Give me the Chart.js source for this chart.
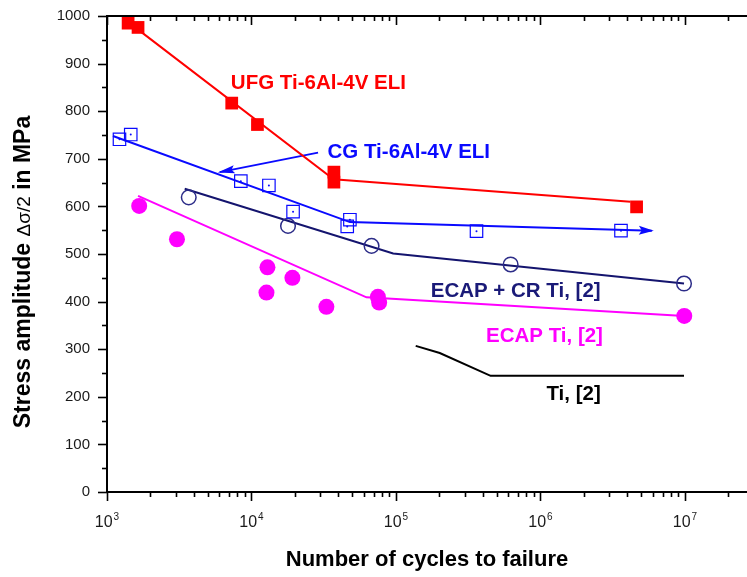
<!DOCTYPE html>
<html>
<head>
<meta charset="utf-8">
<script src="https://cdn.jsdelivr.net/npm/chart.js@4.4.1/dist/chart.umd.min.js"></script>
<style>
  html, body { margin: 0; padding: 0; background: #fff; }
  canvas { display: block; }
</style>
</head>
<body>
<canvas id="fatigueChart" width="747" height="577"></canvas>
<script>
// S-N data: cycles to failure vs stress amplitude (MPa)
const ufgCycles = [1400, 1640, 7300, 11000, 37200, 37200, 4630000];
const ufgStress = [985, 976, 817, 772, 672, 651, 599];
const ufgLineCycles = [1600, 37000, 4200000];
const ufgLineStress = [974, 657, 610];

const cgCycles = [1220, 1460, 8440, 13200, 19400, 48000, 46000, 361000, 3610000];
const cgStress = [741, 751, 653, 644, 589, 572, 558, 548, 549];
const cgLineCycles = [1100, 48000, 5900000];
const cgLineStress = [748, 567, 549];
const cgPointerCycles = [28900, 6030];
const cgPointerStress = [713, 672];

const ecapCrCycles = [3680, 17900, 67800, 622000, 9860000];
const ecapCrStress = [619, 559, 517, 478, 438];
const ecapCrLineCycles = [3450, 95700, 9860000];
const ecapCrLineStress = [637, 501, 438];

const ecapCycles = [1670, 3050, 12900, 12700, 19200, 33000, 75000, 76500, 9900000];
const ecapStress = [601, 531, 472, 419, 450, 389, 410, 398, 370];
const ecapLineCycles = [1640, 62500, 9900000];
const ecapLineStress = [622, 409, 370];

const tiLineCycles = [137000, 201000, 452000, 9860000];
const tiLineStress = [307, 292, 244, 244];

const yTicks = [0, 100, 200, 300, 400, 500, 600, 700, 800, 900, 1000];
const xDecades = [1e3, 1e4, 1e5, 1e6, 1e7];
const xExponents = ['3', '4', '5', '6', '7'];

const FONT = '"Liberation Sans", Arial, Helvetica, sans-serif';
const RED = '#ff0000';
const BLUE = '#0a0aff';
const NAVY = '#14146e';
const MAGENTA = '#ff00ff';

// text placed inside the plot (x, y in data units, left edge / baseline)
const notes = [
    { text: 'UFG Ti-6Al-4V ELI', x: 7200, y: 846, color: RED },
    { text: 'CG Ti-6Al-4V ELI', x: 33600, y: 701, color: BLUE },
    { text: 'ECAP + CR Ti, [2]', x: 174000, y: 409, color: '#1a1a78' },
    { text: 'ECAP Ti, [2]', x: 420000, y: 316, color: MAGENTA },
    { text: 'Ti, [2]', x: 1100000, y: 193, color: '#000' }
];

function toPoints(xs, ys) {
    return xs.map((x, i) => ({ x: x, y: ys[i] }));
}

function arrowHead(ctx, meta, len, half, color) {
    const pts = meta.data;
    const a = pts[pts.length - 2], b = pts[pts.length - 1];
    const ang = Math.atan2(b.y - a.y, b.x - a.x);
    ctx.save();
    ctx.translate(b.x, b.y);
    ctx.rotate(ang);
    ctx.fillStyle = color;
    ctx.beginPath();
    ctx.moveTo(2, 0);
    ctx.lineTo(-len, -half);
    ctx.lineTo(-len + 3, 0);
    ctx.lineTo(-len, half);
    ctx.closePath();
    ctx.fill();
    ctx.restore();
}

const decorPlugin = {
    id: 'decor',
    afterDatasetsDraw(chart) {
        const ctx = chart.ctx;
        arrowHead(ctx, chart.getDatasetMeta(6), 13, 4.5, BLUE);
        arrowHead(ctx, chart.getDatasetMeta(7), 15, 4, BLUE);

        ctx.save();
        ctx.font = 'bold 20.5px ' + FONT;
        ctx.textAlign = 'left';
        ctx.textBaseline = 'alphabetic';
        notes.forEach(n => {
            ctx.fillStyle = n.color;
            ctx.fillText(n.text, chart.scales.x.getPixelForValue(n.x), chart.scales.y.getPixelForValue(n.y));
        });
        ctx.restore();
    },
    afterDraw(chart) {
        const ctx = chart.ctx;
        const xs = chart.scales.x, ys = chart.scales.y;
        const area = chart.chartArea;
        ctx.save();
        ctx.strokeStyle = '#000';
        ctx.lineWidth = 2;

        // frame: left axis, bottom axis, top line
        ctx.beginPath();
        ctx.moveTo(area.left, area.top);
        ctx.lineTo(area.right, area.top);
        ctx.moveTo(area.left, area.top - 1);
        ctx.lineTo(area.left, area.bottom + 1);
        ctx.moveTo(area.left - 1, area.bottom);
        ctx.lineTo(area.right, area.bottom);
        ctx.stroke();

        // x tick marks: bottom (outward) and top (inward)
        ctx.lineWidth = 1.6;
        xDecades.forEach(d => {
            for (let m = 1; m <= 9; m++) {
                const v = d * m;
                if (v > xs.max) break;
                const px = Math.round(xs.getPixelForValue(v)) + 0.5;
                const len = m === 1 ? 9 : 5;
                ctx.beginPath();
                ctx.moveTo(px, area.bottom);
                ctx.lineTo(px, area.bottom + len);
                ctx.moveTo(px, area.top);
                ctx.lineTo(px, area.top + len);
                ctx.stroke();
            }
        });

        // y tick marks (outward), majors every 100, minors every 50
        yTicks.forEach((v, i) => {
            const py = Math.round(ys.getPixelForValue(v)) + 0.5;
            ctx.beginPath();
            ctx.moveTo(area.left, py);
            ctx.lineTo(area.left - 9, py);
            ctx.stroke();
            if (i < yTicks.length - 1) {
                const pm = Math.round(ys.getPixelForValue(v + 50)) + 0.5;
                ctx.beginPath();
                ctx.moveTo(area.left, pm);
                ctx.lineTo(area.left - 5, pm);
                ctx.stroke();
            }
        });

        // y tick labels
        ctx.fillStyle = '#1a1a1a';
        ctx.font = '15px ' + FONT;
        ctx.textAlign = 'right';
        ctx.textBaseline = 'middle';
        yTicks.forEach(v => {
            ctx.fillText(String(v), area.left - 17, ys.getPixelForValue(v));
        });

        // x tick labels as 10 with superscript exponent
        ctx.textBaseline = 'alphabetic';
        ctx.textAlign = 'left';
        xDecades.forEach((d, i) => {
            const px = xs.getPixelForValue(d);
            ctx.font = '16px ' + FONT;
            const wBase = ctx.measureText('10').width;
            ctx.font = '10px ' + FONT;
            const wExp = ctx.measureText(xExponents[i]).width;
            const x0 = px - (wBase + wExp + 1) / 2;
            ctx.font = '16px ' + FONT;
            ctx.fillText('10', x0, area.bottom + 35);
            ctx.font = '10px ' + FONT;
            ctx.fillText(xExponents[i], x0 + wBase + 1, area.bottom + 28);
        });

        // axis titles
        ctx.fillStyle = '#000';
        ctx.font = 'bold 22px ' + FONT;
        ctx.textAlign = 'center';
        ctx.fillText('Number of cycles to failure', (area.left + area.right) / 2, 566);

        const parts = [
            { t: 'Stress amplitude ', f: 'bold 23px ' + FONT },
            { t: '\u0394\u03c3/2', f: '19px ' + FONT },
            { t: ' in MPa', f: 'bold 23px ' + FONT }
        ];
        let total = 0;
        parts.forEach(p => { ctx.font = p.f; p.w = ctx.measureText(p.t).width; total += p.w; });
        ctx.translate(30, 272);
        ctx.rotate(-Math.PI / 2);
        ctx.textAlign = 'left';
        let cx = -total / 2;
        parts.forEach(p => {
            ctx.font = p.f;
            ctx.fillText(p.t, cx, 0);
            cx += p.w;
        });
        ctx.restore();
    }
};

const ctx = document.getElementById('fatigueChart').getContext('2d');
const fatigueChart = new Chart(ctx, {
    type: 'scatter',
    data: {
        datasets: [
            {
                label: 'UFG Ti-6Al-4V ELI',
                data: toPoints(ufgCycles, ufgStress),
                pointStyle: 'rect',
                pointRadius: 9,
                backgroundColor: RED,
                borderColor: RED,
                borderWidth: 0
            },
            {
                label: 'CG Ti-6Al-4V ELI',
                data: toPoints(cgCycles, cgStress),
                pointStyle: 'rect',
                pointRadius: 8.8,
                backgroundColor: 'rgba(0,0,0,0)',
                borderColor: BLUE,
                borderWidth: 1.2
            },
            {
                label: 'CG centre dots',
                data: toPoints(cgCycles, cgStress),
                pointStyle: 'circle',
                pointRadius: 1,
                backgroundColor: BLUE,
                borderWidth: 0
            },
            {
                label: 'ECAP + CR Ti, [2]',
                data: toPoints(ecapCrCycles, ecapCrStress),
                pointStyle: 'circle',
                pointRadius: 7.3,
                backgroundColor: 'rgba(0,0,0,0)',
                borderColor: '#2c2c88',
                borderWidth: 1.5
            },
            {
                label: 'ECAP Ti, [2]',
                data: toPoints(ecapCycles, ecapStress),
                pointStyle: 'circle',
                pointRadius: 8,
                backgroundColor: MAGENTA,
                borderWidth: 0
            },
            {
                label: 'UFG fit',
                data: toPoints(ufgLineCycles, ufgLineStress),
                showLine: true, pointRadius: 0, borderColor: RED, borderWidth: 2
            },
            {
                label: 'CG fit',
                data: toPoints(cgLineCycles, cgLineStress),
                showLine: true, pointRadius: 0, borderColor: BLUE, borderWidth: 2
            },
            {
                label: 'CG pointer',
                data: toPoints(cgPointerCycles, cgPointerStress),
                showLine: true, pointRadius: 0, borderColor: BLUE, borderWidth: 2
            },
            {
                label: 'ECAP + CR fit',
                data: toPoints(ecapCrLineCycles, ecapCrLineStress),
                showLine: true, pointRadius: 0, borderColor: NAVY, borderWidth: 2
            },
            {
                label: 'ECAP fit',
                data: toPoints(ecapLineCycles, ecapLineStress),
                showLine: true, pointRadius: 0, borderColor: MAGENTA, borderWidth: 2
            },
            {
                label: 'Ti, [2]',
                data: toPoints(tiLineCycles, tiLineStress),
                showLine: true, pointRadius: 0, borderColor: '#000', borderWidth: 2
            }
        ]
    },
    options: {
        responsive: false,
        animation: false,
        events: [],
        layout: {
            autoPadding: false,
            padding: { left: 107, top: 16, right: 0, bottom: 85 }
        },
        plugins: {
            legend: { display: false },
            tooltip: { enabled: false }
        },
        scales: {
            x: {
                display: false,
                type: 'logarithmic',
                min: 1000,
                max: 26900000
            },
            y: {
                display: false,
                min: 0,
                max: 1000
            }
        }
    },
    plugins: [decorPlugin]
});
</script>
</body>
</html>
